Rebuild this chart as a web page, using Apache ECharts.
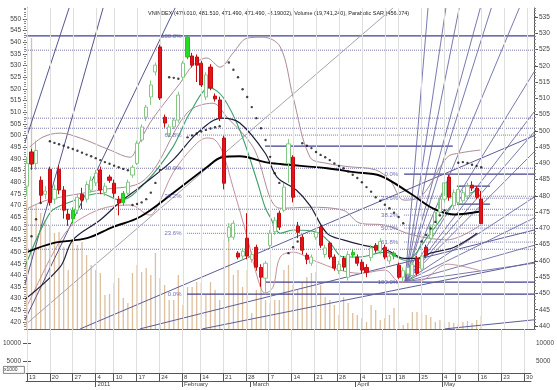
<!DOCTYPE html>
<html><head><meta charset="utf-8">
<script src="https://cdn.jsdelivr.net/npm/echarts@6/dist/echarts.min.js"></script>
<style>html,body{margin:0;padding:0;background:#fff}#c{width:557px;height:390px}</style>
</head><body><div id="c"></div>
<script>
// ---------- axis ticks / labels ----------
const weekTickIdx = [0,5,10,15,19,24,29,34,38,43,48,53,58,63,68,73,78,81,86,91,94,99,104,109];
const weekTickLabels = ['13','20','27','4','10','17','24','8','14','21','28','7','14','21','28','4','13','18','25','4','9','16','23','30'];
const monthIdx = [15,34,49,72,91];
const monthLabels = ['2011','February','March','April','May'];
const leftPriceTicks = [420,425,430,435,440,445,450,455,460,465,470,475,480,485,490,495,500,505,510,515,520,525,530,535,540,545,550];
const rightPriceTicks = [440,445,450,455,460,465,470,475,480,485,490,495,500,505,510,515,520,525,530,535];
const volPaneTicks = [5000,10000];

// ---------- daily candles (index = trading day from 13 Dec 2010) ----------
const candleOpen  = [483,493.5,490,484.8,480.5,488.2,479,488.2,481.8,474.4,473,475.6,480.5,479,481.8,484,488,481,485.8,483.9,479,478,480.8,486.4,490,497.2,504.2,510.4,518.1,525.8,504.2,498.7,501.2,503.3,516.5,522.7,523,522.7,520.8,510.4,519.6,510.7,509.5,497.8,467.3,467.3,462.4,461.5,467,460.5,464.2,458,454.7,464.8,469,474.7,475.6,490,491.9,470.7,467.3,461.8,459.3,467.3,470.4,462,465.5,461.2,457,460.8,455,461.8,461.2,459.6,458,461,464.8,463,464.2,460,461.5,458.7,455,456,455.5,460.8,457.5,464.2,467,471,475,479,485.8,477,478,478.5,480,483.3,482.4,479.01];
const candleClose = [490,489.8,494,480.2,481.5,478,482,481.8,475.6,472.8,475.6,479.6,478.7,483.5,484.8,487,481.8,483,484.8,480.8,477.8,480.8,484.2,488.8,496.2,501.2,507.3,514.1,520.2,510.1,502.4,501.2,503.3,511,520.8,528.8,520.2,520.2,514.1,517.2,513.2,509.8,503.9,483.9,470.4,471.6,461.2,463,461.5,462,458.1,455,459.3,468.5,472.5,470.4,482.7,496,479.6,468.8,463.3,460.5,461.2,468.8,464.8,464,461.2,457.8,459,458.1,462,462.6,459.3,457.2,456.5,464,463.3,466,461.2,461.5,462.4,455,457,458,459,456.2,461.5,461.8,471,475,479,484,479.6,481,482,481,483,482.4,479.6,471.49];
const candleLow   = [480,488,488,478,479,477,477.5,480.5,473,470.8,471.5,474.5,476,478,481,483,480.5,480,484,479.5,474,477,480,485.5,489.5,496.5,503,508,517,509.5,501,498,500.5,502.5,515.5,522,519.5,515,513.5,509.5,512.5,509,503,482,466,466.5,460.5,460.5,460.5,459.5,457,452,449.8,464,468,469.5,475,484,478,467,462,459,458.5,466.5,464,461,460.5,457,456,457,454,461,458.5,456,455,460,462.5,462,460.5,459,460.5,454.5,453.5,455,454.5,455.5,456.5,461,466,470,474,478,478.5,476,477,477.5,479,481.5,479,471.49];
const candleHigh  = [492,494.5,497,486,483,489,483.5,489.5,483,476,476.5,480.5,482.5,484.5,486,488,489,484,486.5,485,480,481.5,485,489.5,497,502,508,515.5,521,526.5,505,502,504,512,521.5,529.2,524,523.5,521.5,518,520.5,511.5,510.5,498.5,471.5,472.5,463,464,474.7,463,465,459,460,469.5,473.5,475.5,484,497.5,492.5,472,468,462.5,462,469.5,471,465,466,462,460,461.5,463,463.5,462,460.5,459,465,465.5,467,465,462.5,463,459.5,458,459,460,461.5,462.5,465,468,472,476,480,486.5,482,483,482,484,484.5,483,481.51];
const solidGreenDays = [10,21,35,71,80];

// ---------- volume (millions of shares) ----------
const volumeM = [200.6,452.5,192.8,180.4,169.5,161.7,149.3,150.8,127.5,91.7,138.4,130.6,135.3,115.1,99.5,91.7,87.1,52.9,54.4,71.5,79.3,48.2,40.4,87.1,99.5,88.6,94.9,84,118.2,79.3,68.4,45.1,45.1,84,37.3,65.3,65.3,73.1,71.5,52.9,73.1,60.6,45.1,138.4,164.8,84,91.7,65.3,91.7,24.9,60.6,80.9,45.1,40.4,45.1,45.1,91.7,99.5,68.4,60.6,73.1,80.9,87.1,88.6,68.4,49.8,45.1,37.3,21.8,49.8,40.4,24.9,21.8,17.1,10.9,37.3,29.5,14,17.1,21.8,32.7,10.9,6.2,9.3,26.4,26.4,24.9,21.8,18.7,10.9,14,9.3,10.9,9.3,7.8,10.9,12.4,9.3,14,19.7];

// ---------- indicator curves [dayIndex, value] ----------
const thickMA = [[0,462.7],[5.7,465.5],[13.1,467],[18.7,470.4],[24.6,473.5],[31.8,480.8],[39.2,488.8],[42.5,491.9],[46.4,492.2],[51.9,490.4],[55.2,489.8],[65.4,488.5],[71.3,487.3],[77,486.2],[83.5,480.8],[88.7,476],[93.1,474.3],[98.8,475.2]];
const midMA = [[-1.5,447],[7.2,458.1],[10,466.4],[15.9,472.5],[20.3,478.1],[24.6,482.7],[31.8,491],[37.1,499.3],[42.5,503.9],[46.4,502.4],[51.9,493.2],[54.5,485.8],[58.7,481.8],[61.7,477],[65.4,468.5],[69.1,466.4],[73.4,464.8],[78.5,463.3],[82.2,460.8],[85,460.8],[87.9,462.4],[93.1,464.2],[98.1,468.5]];
const greenMA = [[-1.5,454.1],[5,474.7],[9.4,478.1],[15.9,480.8],[20.3,478.7],[25.7,483.9],[31.8,495],[35.5,505.5],[39.9,513.2],[42.7,510.4],[46.4,500.2],[50.1,484.8],[51.9,476.5],[53,473.5],[55.2,468.5],[58,469.5],[63.2,468.8],[66.1,465.5],[68.9,461.2],[72.6,461.2],[78,462.7],[82.4,460.2],[87.9,468.5],[93.7,478.7],[98.8,481.8]];
const upperBand = [[0.6,495],[3.5,498.1],[7.2,499.3],[11.6,497.8],[18.1,494.1],[22.5,491.9],[24,495],[26.8,502.4],[30.5,509.5],[33.4,514.7],[36.2,520.2],[39.2,522.4],[42.1,519.6],[44.9,523.9],[48,528.5],[51.4,528.8],[55.2,525.8],[58,510.4],[61.7,491.9],[65.4,490],[70,489],[76,488],[79.1,484.8],[82.2,478.7],[86,480],[91.6,491.9],[94.4,493.2],[98.8,494.1]];
const middleBand = [[0,476],[4.4,478.7],[15.9,481.8],[25.7,485],[34.9,505.5],[40.5,508.5],[43.6,504.2],[49.3,495],[55.2,476.2],[61.7,476.5],[68.9,475.6],[72.6,471.6],[78,471],[84,468],[91.6,466.5],[98.8,471]];
const lowerBand = [[0,446],[5.7,462.4],[9.4,470.4],[13.1,474.1],[17.4,476.5],[22.5,477.2],[26.8,474.1],[28.5,477],[31.8,487],[36.2,495],[39.2,497.8],[41,497.2],[42.7,493.2],[44.9,482.7],[48,467.3],[50.4,454.1],[51.9,450.1],[53.6,451.9],[55.2,461.2],[58,462.7],[62.4,460.2],[68.2,457.2],[72.6,456.2],[78,457.2],[81.3,453.5],[86,454],[91.6,459],[98.8,457]];
const sarDots = [[1,467.6],[2,472.8],[3,477.8],[5,496.8],[6,496.3],[7,495.9],[8,495.4],[9,494.9],[10,494.4],[11,493.9],[12,493.3],[13,492.7],[14,492.2],[15,491.6],[16,491],[17,490.4],[18,489.9],[19,489.3],[20,488.8],[21,488.3],[22,487.9],[23,477.2],[24,477.5],[25,478],[26,479],[27,481],[28,484],[29,488],[31,516.5],[32,516.3],[33,516],[35,498],[36,498.6],[37,499.2],[38,499.8],[39,500.3],[40,500.7],[41,501.1],[42,501.4],[44,521],[45,518.8],[46,516.5],[47,512.8],[48,510.4],[49,507.3],[50,503.9],[51,500.8],[52,497.2],[53,492],[54,487],[55,484],[57,462.4],[58,464.2],[59,466],[60,496.2],[61,495.4],[62,494.7],[63,493.5],[64,492.6],[65,491.9],[66,491],[67,490],[68,489.2],[69,488.5],[70,487.5],[71,486.5],[72,485.5],[73,484.2],[74,482.7],[75,481.3],[76,479.6],[77,478.5],[78,477.3],[79,476.2],[80,474.8],[81,473.5],[82,471.6],[86,466],[87,468],[88,470],[89,472],[90,474],[91,475.6],[94,490.2],[95,490.4],[96,490.1],[97,489.6],[98,489.2],[99,488.8]];

// ---------- drawing tools (Fibonacci, horizontal lines, Gann fans) ----------
const fib1Levels = [529.2,498.7,479.9,468.5,449.8];
const fib1Names = ['100.0%','61.8%','38.2%','23.6%','0.0%'];
const fib1LabelLevels = [529.2,498.7,488.5,479.9,468.5,449.8];
const fib1LabelNames = ['100.0%','61.8%','50.0%','38.2%','23.6%','0.0%'];
const fib1Start = 34.9;
const fib2Levels = [486.7,479.3,474.1,470.1,465.8,453.5];
const fib2Names = ['0.0%','23.6%','38.2%','50.0%','61.8%','100.0%'];
const fib2Start = 82.2;
const fib2LowStart = 51.9;
const fullDotted = [524.8,503.9,500.8,488.5,475.9,471,463.6];
const shortSolid = [[51.9,92.8,495.3],[93.7,100.9,483],[93.7,100.9,477.5]];
const leftFanSteep = [[-1.5,491.9,9.2,537.8],[-0.5,452.5,16.6,537.8],[-1.5,438.7,32.3,537.8]];
const leftFanGray = [[-1.4,439.1,79.8,537.8]];
const leftFanLow = [[11.6,439.1,110.5,498.5],[24.6,439.1,110.5,469.5],[38.2,439.1,110.5,459.6],[91,439.1,110.5,441.9]];
const fanPivot = [82.4,453.6];
const fanTopEnds = [87.4,91.3,94.2,98.8,101.2,107.3];
const fanRightEnds = [518.1,505.8,499.6,493.5,479.6,473.2,464.8,459.3];

const X_MIN = -0.2, X_MAX = 110.5, P_MIN = 439.08, P_MAX = 537.77;

const chart = echarts.init(document.getElementById('c'));
const FONT = 'Liberation Sans';
const series = [];

function seg(x0,p0,x1,p1,color,width,type,z){
  series.push({type:'line',xAxisIndex:0,yAxisIndex:2,data:[[x0,p0],[x1,p1]],showSymbol:false,silent:true,animation:false,
    lineStyle:{color:color,width:width,type:type||'solid'},z:z||2});
}
// vertical grid lines in both panes
series.push({type:'line',xAxisIndex:0,yAxisIndex:2,data:[],silent:true,animation:false,
  markLine:{silent:true,symbol:'none',animation:false,label:{show:false},lineStyle:{color:'#dedede',type:'solid',width:1},data:weekTickIdx.map(v=>({xAxis:v}))},z:0});
series.push({type:'line',xAxisIndex:1,yAxisIndex:4,data:[],silent:true,animation:false,
  markLine:{silent:true,symbol:'none',animation:false,label:{show:false},lineStyle:{color:'#dedede',type:'solid',width:1},data:weekTickIdx.map(v=>({xAxis:v}))},z:0});

// volume bars overlay
series.push({type:'bar',xAxisIndex:0,yAxisIndex:3,barWidth:1.3,silent:true,animation:false,
  itemStyle:{color:'#ddbf9e'},data:volumeM.map((v,i)=>[i,v]),z:1});

// horizontal lines
fullDotted.forEach(p=>seg(X_MIN,p,X_MAX,p,'#7a7aa8',1,'dotted'));
fib1Levels.forEach((p,k)=>{
  const solid = fib1Names[k]==='100.0%'||fib1Names[k]==='0.0%';
  seg(fib1Names[k]==='100.0%'?X_MIN:fib1Start,p,X_MAX,p,solid?'#3f3f90':'#7a7aa8',solid?1.3:1,solid?'solid':'dotted');
});
fib2Levels.forEach((p,k)=>{
  const solid = fib2Names[k]==='100.0%'||fib2Names[k]==='0.0%';
  seg(fib2Names[k]==='100.0%'?fib2LowStart:fib2Start,p,X_MAX,p,solid?'#3f3f90':'#7a7aa8',solid?1.3:1,solid?'solid':'dotted');
});
shortSolid.forEach(s=>seg(s[0],s[2],s[1],s[2],'#3f3f90',1.3,'solid'));

// fans
leftFanSteep.forEach(s=>seg(s[0],s[1],s[2],s[3],'#55558f',1));
leftFanGray.forEach(s=>seg(s[0],s[1],s[2],s[3],'#a2a2b4',1));
leftFanLow.forEach(s=>seg(s[0],s[1],s[2],s[3],'#5c5c98',1));
fanTopEnds.forEach(x=>seg(fanPivot[0],fanPivot[1],x,P_MAX,'#6a6aa6',0.9));
fanRightEnds.forEach(p=>seg(fanPivot[0],fanPivot[1],X_MAX,p,'#6a6aa6',0.9));

// curves
function curve(pts,color,width,z){
  series.push({type:'line',xAxisIndex:0,yAxisIndex:2,data:pts,smooth:0.35,showSymbol:false,silent:true,animation:false,
    lineStyle:{color:color,width:width},z:z||4});
}
curve(upperBand,'#ad8a96',1);
curve(middleBand,'#b08a98',1);
curve(lowerBand,'#c4909e',1);
curve(greenMA,'#3f9f6a',1.1);
curve(midMA,'#1e1e3c',1.2);
curve(thickMA,'#000000',1.9);

// candles
series.push({type:'candlestick',xAxisIndex:0,yAxisIndex:2,barWidth:3.6,silent:true,animation:false,
  encode:{x:0,y:[1,2,3,4]},
  itemStyle:{color:'#ffffff',borderColor:'#84c884',color0:'#e3141a',borderColor0:'#c40c10',borderWidth:1},
  data:candleOpen.map((o,i)=>{
    const d={value:[i,o,candleClose[i],candleLow[i],candleHigh[i]]};
    if(solidGreenDays.indexOf(i)>=0) d.itemStyle={color:'#22dd22',borderColor:'#22c022',color0:'#22dd22',borderColor0:'#22c022'};
    return d;
  }),z:6});

// SAR dots
series.push({type:'scatter',xAxisIndex:0,yAxisIndex:2,symbol:'circle',symbolSize:2.4,silent:true,animation:false,
  itemStyle:{color:'#111'},data:sarDots,z:7});

// Fibonacci labels
function fibLabels(levels,names,xEnd){
  series.push({type:'scatter',xAxisIndex:0,yAxisIndex:2,symbolSize:0,silent:true,animation:false,
    data:levels.map((p,k)=>({value:[xEnd,p],name:names[k]})),
    label:{show:true,position:'left',distance:1,formatter:'{b}',color:'#4b4ba8',fontSize:6,fontFamily:FONT},z:8});
}
fibLabels(fib1LabelLevels,fib1LabelNames,33.9);
fibLabels(fib2Levels,fib2Names,81.1);

const axisCol = '#555';
const labelStyle = {color:'#444',fontSize:6.5,fontFamily:FONT};
const plain = v=>String(v);
chart.setOption({
  animation:false,
  backgroundColor:'#ffffff',
  grid:[
    {left:26,right:23,top:8,height:321},
    {left:26,right:23,top:329,height:44}
  ],
  xAxis:[
    {type:'value',gridIndex:0,min:X_MIN,max:X_MAX,axisLine:{show:true,onZero:false,lineStyle:{color:'#666',width:1.2}},axisTick:{show:false},axisLabel:{show:false},splitLine:{show:false}},
    {type:'value',gridIndex:1,min:X_MIN,max:X_MAX,position:'bottom',
      axisLine:{show:true,onZero:false,lineStyle:{color:axisCol}},
      axisTick:{show:true,customValues:weekTickIdx,length:8,lineStyle:{color:axisCol}},
      axisLabel:{show:true,customValues:weekTickIdx,margin:1,align:'left',padding:[0,0,0,2],color:'#444',fontSize:6,fontFamily:FONT,
        formatter:v=>{const k=weekTickIdx.indexOf(v);return k>=0?weekTickLabels[k]:'';}},
      splitLine:{show:false}},
    {type:'value',gridIndex:1,min:X_MIN,max:X_MAX,position:'bottom',offset:8,
      axisLine:{show:true,onZero:false,lineStyle:{color:axisCol}},
      axisTick:{show:true,customValues:monthIdx,length:6,lineStyle:{color:axisCol}},
      axisLabel:{show:true,customValues:monthIdx,margin:0,align:'left',padding:[0,0,0,2],color:'#444',fontSize:6,fontFamily:FONT,
        formatter:v=>{const k=monthIdx.indexOf(v);return k>=0?monthLabels[k]:'';}},
      splitLine:{show:false}}
  ],
  yAxis:[
    {type:'value',gridIndex:0,position:'left',min:417,max:554.7,
      axisLine:{show:true,lineStyle:{color:axisCol}},
      axisTick:{show:true,customValues:leftPriceTicks,length:4,lineStyle:{color:axisCol}},
      axisLabel:Object.assign({customValues:leftPriceTicks,margin:5,formatter:plain},labelStyle),splitLine:{show:false}},
    {type:'value',gridIndex:0,position:'left',min:417,max:554.7,interval:1,
      axisLine:{show:false},axisTick:{show:true,length:2,lineStyle:{color:'#888'}},axisLabel:{show:false},splitLine:{show:false}},
    {type:'value',gridIndex:0,position:'right',min:P_MIN,max:P_MAX,
      axisLine:{show:true,lineStyle:{color:axisCol}},
      axisTick:{show:true,customValues:rightPriceTicks,length:4,lineStyle:{color:axisCol}},
      axisLabel:Object.assign({customValues:rightPriceTicks,margin:5,formatter:plain},labelStyle),splitLine:{show:false}},
    {type:'value',gridIndex:0,min:0,max:499.2,show:false},
    {type:'value',gridIndex:1,position:'left',min:1667,max:13889,
      axisLine:{show:true,lineStyle:{color:axisCol}},
      axisTick:{show:true,customValues:volPaneTicks,length:4,lineStyle:{color:axisCol}},
      axisLabel:Object.assign({customValues:volPaneTicks,margin:5,formatter:plain},labelStyle),splitLine:{show:false}},
    {type:'value',gridIndex:1,position:'right',min:1667,max:13889,
      axisLine:{show:true,lineStyle:{color:axisCol}},
      axisTick:{show:true,customValues:volPaneTicks,length:4,lineStyle:{color:axisCol}},
      axisLabel:Object.assign({customValues:volPaneTicks,margin:5,formatter:plain},labelStyle),splitLine:{show:false}},
    {type:'value',gridIndex:0,position:'right',min:P_MIN,max:P_MAX,interval:1,
      axisLine:{show:false},axisTick:{show:true,length:2,lineStyle:{color:'#888'}},axisLabel:{show:false},splitLine:{show:false}}
  ],
  graphic:[
    {type:'text',left:148,top:10,silent:true,style:{text:'VNINDEX (479.010, 481.510, 471.490, 471.490, -8.19002), Volume (19,741,240), Parabolic SAR (456.074)',fill:'#222',fontSize:5.5,fontFamily:FONT}},
    {type:'rect',left:3,top:366,shape:{width:21,height:7},silent:true,style:{fill:'#fff',stroke:'#666',lineWidth:0.8}},
    {type:'text',left:4,top:367,silent:true,style:{text:'x1000',fill:'#333',fontSize:5,fontFamily:FONT}}
  ],
  series:series
});
</script></body></html>
